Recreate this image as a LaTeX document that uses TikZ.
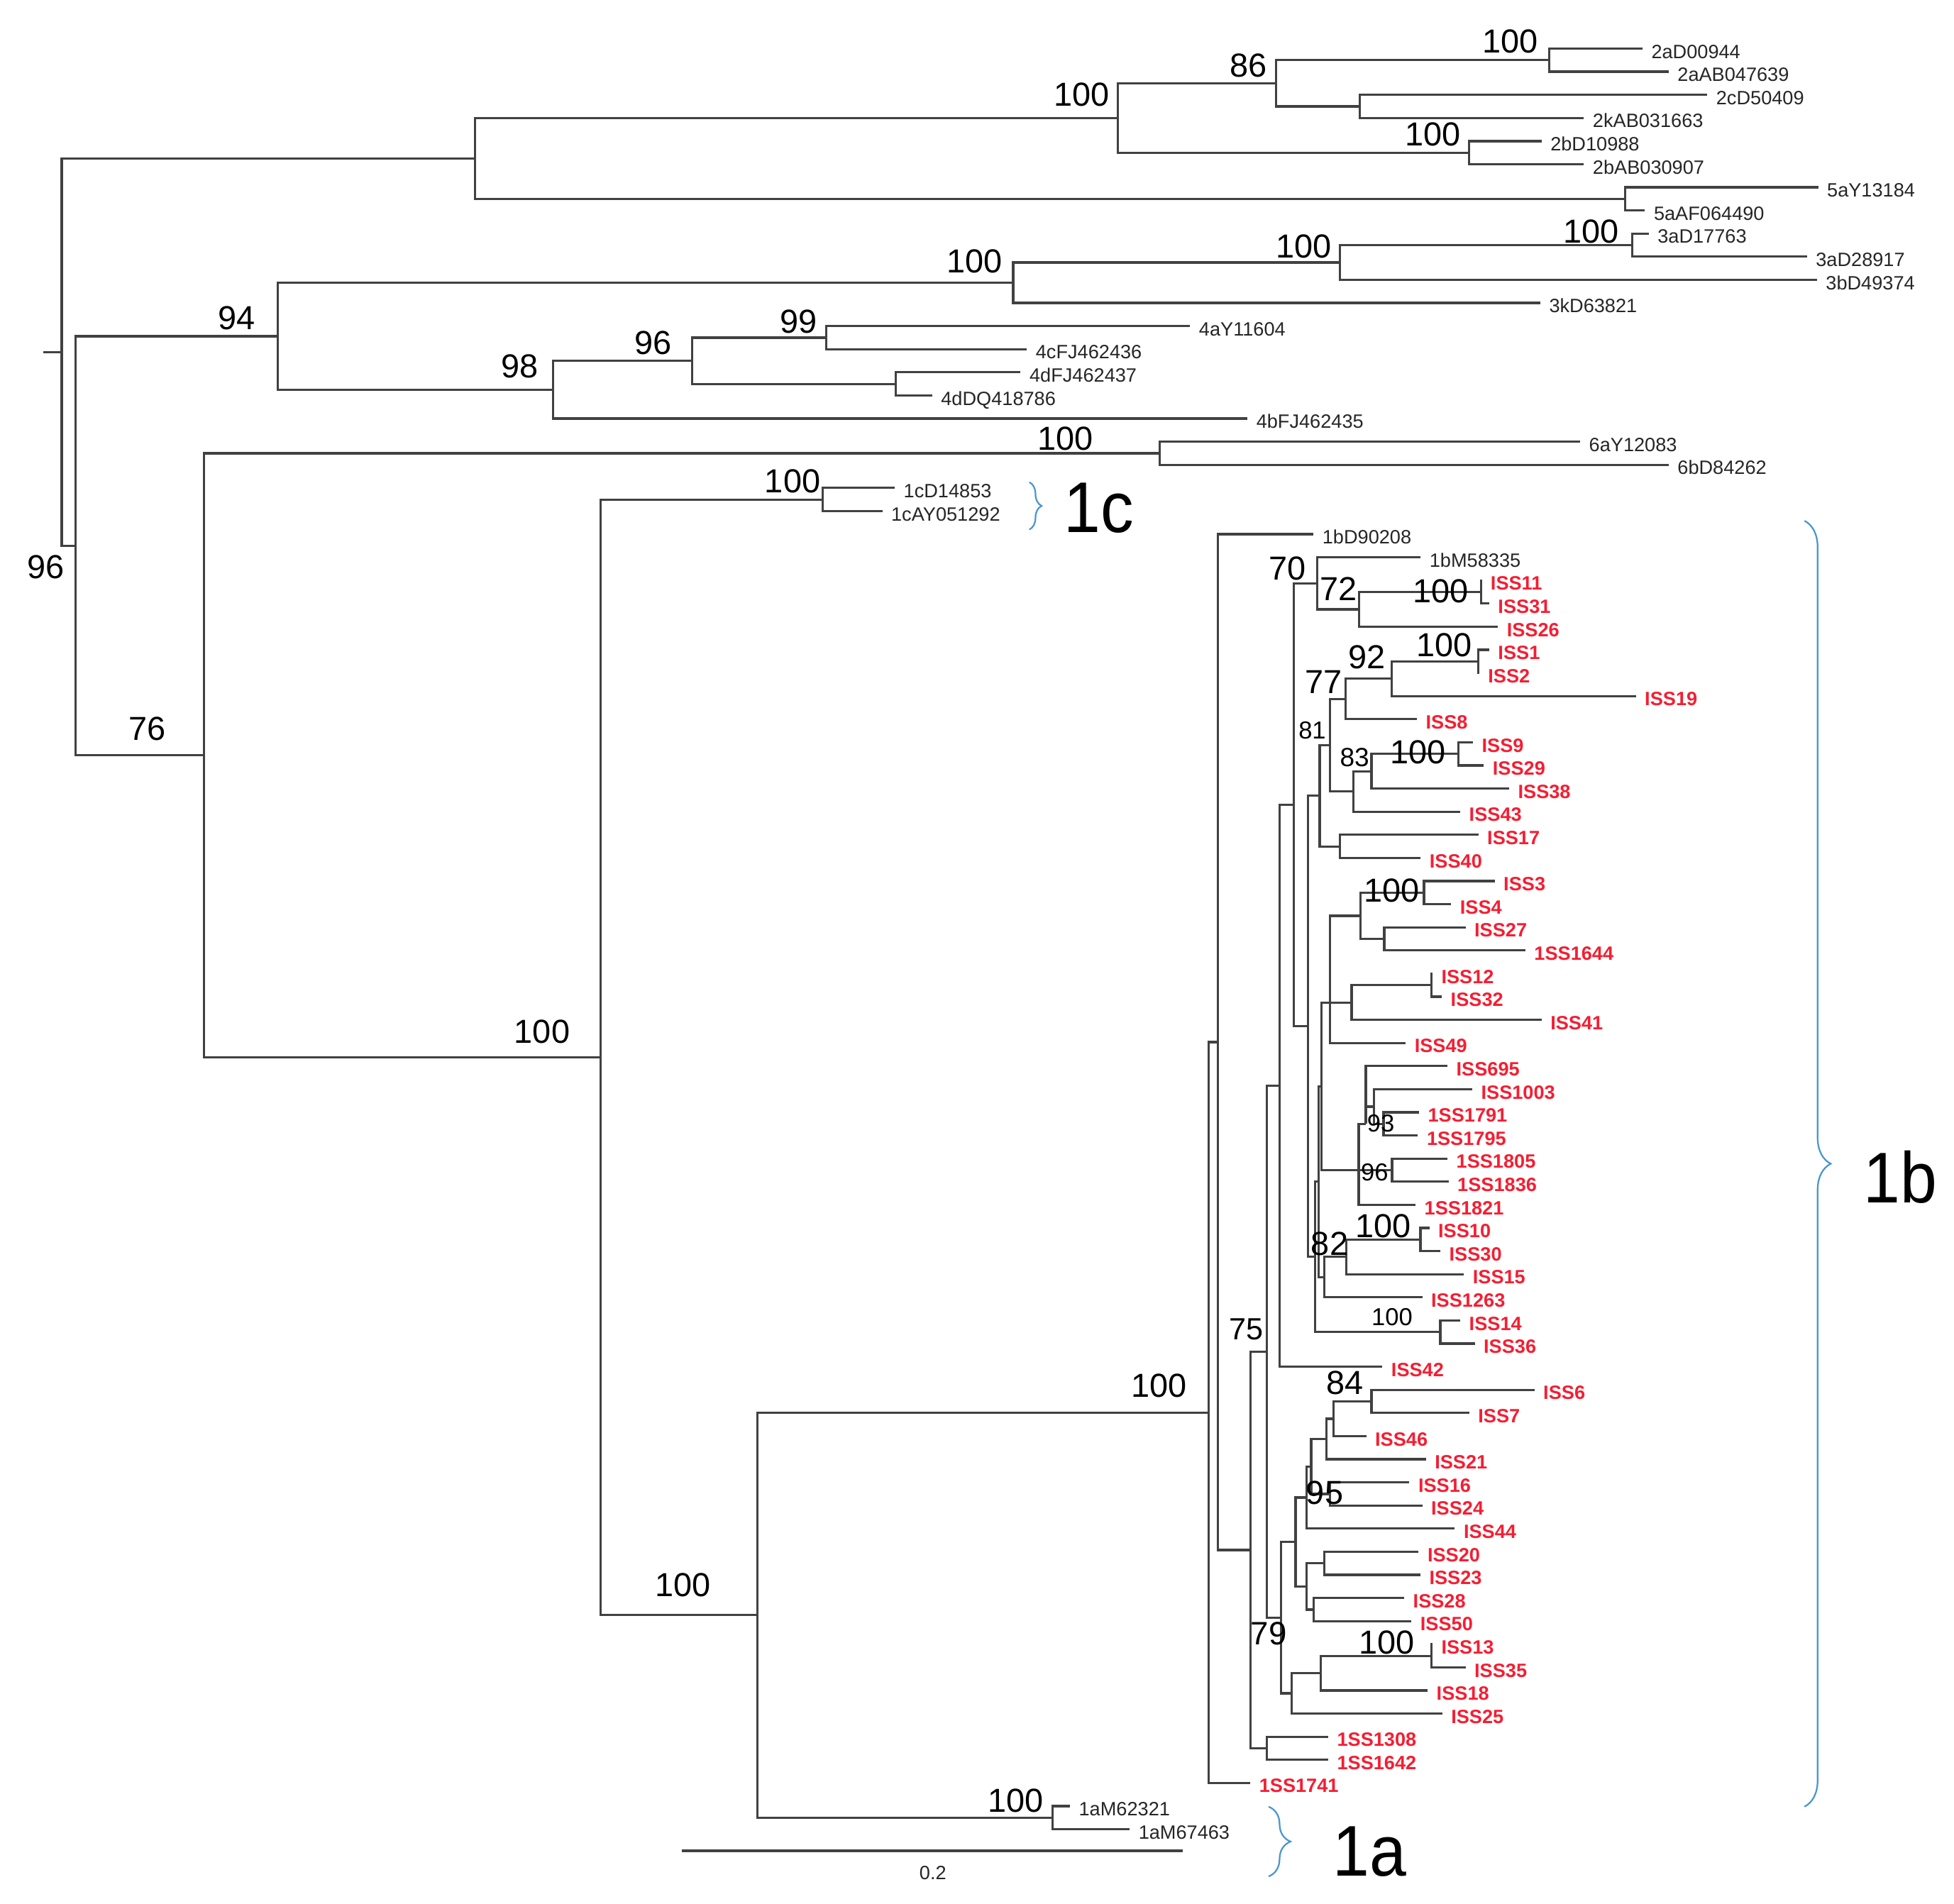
\documentclass[tikz,border=0pt]{standalone}
\usepackage{fontspec}
\usepackage{graphicx}
\setmainfont{Liberation Sans}
\usetikzlibrary{decorations.pathreplacing}
\definecolor{issred}{RGB}{245,30,50}
\definecolor{brblue}{RGB}{72,150,208}
\definecolor{brgray}{RGB}{65,65,65}
\newcommand\TLeafK[4]{\node[leafk] (#1) at (#2,{39+18.56*#3}) {#4};}
\newcommand\TLeafR[4]{\node[leafr] (#1) at (#2,{39+18.56*#3}) {#4};}
\newcommand\TNode[3]{\coordinate (#1) at (#2,{39+18.56*#3});}
\begin{document}
\begin{tikzpicture}[x=0.05cm,y=-0.05cm,
  branch/.style={draw=brgray,line width=2.6pt},
  leafk/.style={anchor=west,inner xsep=10pt,inner ysep=0pt,text height=22pt,text depth=0pt,font=\fontsize{22}{24}\selectfont,text=black!85},
  leafr/.style={leafk,font=\fontsize{22}{24}\selectfont\bfseries,text=issred},
  boot/.style={inner sep=0pt,anchor=center,font=\fontsize{38}{40}\selectfont},
  boots/.style={inner sep=0pt,anchor=center,font=\fontsize{28}{30}\selectfont},
  bracelab/.style={inner sep=0pt,anchor=center,font=\fontsize{82}{84}\selectfont},
  bracebr/.style={draw=brblue,line width=1.8pt,decorate}]
\fill[white] (0,0) rectangle (1568,1528);
\useasboundingbox (0,0) rectangle (1568,1528);
% leaves
\TLeafK{l0}{1318}{0}{2aD00944}
\TLeafK{l1}{1339}{1}{2aAB047639}
\TLeafK{l2}{1370}{2}{2cD50409}
\TLeafK{l3}{1271}{3}{2kAB031663}
\TLeafK{l4}{1237}{4}{2bD10988}
\TLeafK{l5}{1271}{5}{2bAB030907}
\TLeafK{l6}{1459}{6}{5aY13184}
\TLeafK{l7}{1320}{7}{5aAF064490}
\TLeafK{l8}{1323}{8}{3aD17763}
\TLeafK{l9}{1450}{9}{3aD28917}
\TLeafK{l10}{1458}{10}{3bD49374}
\TLeafK{l11}{1236}{11}{3kD63821}
\TLeafK{l12}{955}{12}{4aY11604}
\TLeafK{l13}{824}{13}{4cFJ462436}
\TLeafK{l14}{819}{14}{4dFJ462437}
\TLeafK{l15}{748}{15}{4dDQ418786}
\TLeafK{l16}{1001}{16}{4bFJ462435}
\TLeafK{l17}{1268}{17}{6aY12083}
\TLeafK{l18}{1339}{18}{6bD84262}
\TLeafK{l19}{718}{19}{1cD14853}
\TLeafK{l20}{708}{20}{1cAY051292}
\TLeafK{l21}{1054}{21}{1bD90208}
\TLeafK{l22}{1140}{22}{1bM58335}
\TLeafR{l23}{1189}{23}{ISS11}
\TLeafR{l24}{1195}{24}{ISS31}
\TLeafR{l25}{1202}{25}{ISS26}
\TLeafR{l26}{1195}{26}{ISS1}
\TLeafR{l27}{1187}{27}{ISS2}
\TLeafR{l28}{1312.7}{28}{ISS19}
\TLeafR{l29}{1137}{29}{ISS8}
\TLeafR{l30}{1182}{30}{ISS9}
\TLeafR{l31}{1190.7}{31}{ISS29}
\TLeafR{l32}{1211}{32}{ISS38}
\TLeafR{l33}{1171.8}{33}{ISS43}
\TLeafR{l34}{1186.3}{34}{ISS17}
\TLeafR{l35}{1140}{35}{ISS40}
\TLeafR{l36}{1199.4}{36}{ISS3}
\TLeafR{l37}{1164.5}{37}{ISS4}
\TLeafR{l38}{1176}{38}{ISS27}
\TLeafR{l39}{1224}{39}{1SS1644}
\TLeafR{l40}{1149.5}{40}{ISS12}
\TLeafR{l41}{1157}{41}{ISS32}
\TLeafR{l42}{1237}{42}{ISS41}
\TLeafR{l43}{1128}{43}{ISS49}
\TLeafR{l44}{1161.5}{44}{ISS695}
\TLeafR{l45}{1181.4}{45}{ISS1003}
\TLeafR{l46}{1138.7}{46}{1SS1791}
\TLeafR{l47}{1137.8}{47}{1SS1795}
\TLeafR{l48}{1161.5}{48}{1SS1805}
\TLeafR{l49}{1162.4}{49}{1SS1836}
\TLeafR{l50}{1135.9}{50}{1SS1821}
\TLeafR{l51}{1147}{51}{ISS10}
\TLeafR{l52}{1155.8}{52}{ISS30}
\TLeafR{l53}{1174.7}{53}{ISS15}
\TLeafR{l54}{1141.3}{54}{ISS1263}
\TLeafR{l55}{1171.8}{55}{ISS14}
\TLeafR{l56}{1183.4}{56}{ISS36}
\TLeafR{l57}{1109.3}{57}{ISS42}
\TLeafR{l58}{1231.3}{58}{ISS6}
\TLeafR{l59}{1179}{59}{ISS7}
\TLeafR{l60}{1096.3}{60}{ISS46}
\TLeafR{l61}{1144.2}{61}{ISS21}
\TLeafR{l62}{1131}{62}{ISS16}
\TLeafR{l63}{1141.3}{63}{ISS24}
\TLeafR{l64}{1167.4}{64}{ISS44}
\TLeafR{l65}{1138.4}{65}{ISS20}
\TLeafR{l66}{1139.8}{66}{ISS23}
\TLeafR{l67}{1126.8}{67}{ISS28}
\TLeafR{l68}{1132.6}{68}{ISS50}
\TLeafR{l69}{1149.5}{69}{ISS13}
\TLeafR{l70}{1176}{70}{ISS35}
\TLeafR{l71}{1145.6}{71}{ISS18}
\TLeafR{l72}{1157.3}{72}{ISS25}
\TLeafR{l73}{1065.8}{73}{1SS1308}
\TLeafR{l74}{1065.8}{74}{1SS1642}
\TLeafR{l75}{1003.3}{75}{1SS1741}
\TLeafK{l76}{858.6}{76}{1aM62321}
\TLeafK{l77}{906.5}{77}{1aM67463}
% internal nodes
\TNode{root}{49.5}{13.12442}
\TNode{nA}{381}{4.75}
\TNode{n100a}{897}{3}
\TNode{n86}{1024}{1.5}
\TNode{n2a}{1243}{0.5}
\TNode{n2ck}{1091}{2.5}
\TNode{n2b}{1179}{4.5}
\TNode{n5a}{1304}{6.5}
\TNode{n96}{60.5}{21.49884}
\TNode{n94}{223}{12.4375}
\TNode{n3}{813}{10.125}
\TNode{n3ab}{1075.4}{9.25}
\TNode{n3a}{1310}{8.5}
\TNode{n98}{444}{14.75}
\TNode{n96a}{555.6}{13.5}
\TNode{n99}{663}{12.5}
\TNode{n4d}{719}{14.5}
\TNode{n76}{163.5}{30.56018}
\TNode{n6}{930.5}{17.5}
\TNode{n1abc}{482}{43.62036}
\TNode{n1c}{660}{19.5}
\TNode{n1bla}{608}{67.74072}
\TNode{n1a}{844.7}{76.5}
\TNode{P}{969.9}{58.981445}
\TNode{B1}{977.2}{42.96289}
\TNode{R2}{1003.3}{64.92578}
\TNode{n1308}{1016.4}{73.5}
\TNode{Q}{1016.4}{56.3515625}
\TNode{N}{1026.6}{44.8515625}
\TNode{n70}{1038}{32.703125}
\TNode{nA1}{1057}{23.125}
\TNode{n72}{1090.5}{24.25}
\TNode{n100b}{1188.6}{23.5}
\TNode{M}{1049.8}{42.28125}
\TNode{K}{1059}{32.3125}
\TNode{G}{1067.2}{30.125}
\TNode{F}{1079.7}{28.125}
\TNode{D}{1116.6}{27.25}
\TNode{E}{1186.3}{26.5}
\TNode{H}{1086}{32.125}
\TNode{I}{1100.6}{31.25}
\TNode{J}{1170.3}{30.5}
\TNode{L}{1075.3}{34.5}
\TNode{Z}{1055.2}{52.25}
\TNode{n100d}{1155.8}{55.5}
\TNode{Z2}{1058}{49}
\TNode{Z3}{1060.5}{44.875}
\TNode{R}{1067.2}{41.25}
\TNode{S}{1091.9}{37.5}
\TNode{U}{1142.7}{36.5}
\TNode{V}{1110.8}{38.5}
\TNode{T}{1084.6}{41.25}
\TNode{W}{1148.5}{40.5}
\TNode{X5}{1090.3}{48.5}
\TNode{X1}{1096}{46.5}
\TNode{X2}{1102.7}{45.75}
\TNode{n93}{1110.2}{46.5}
\TNode{n96b}{1117}{48.5}
\TNode{Y1}{1062.9}{53.125}
\TNode{n82}{1080.3}{52.25}
\TNode{n100e}{1139.8}{51.5}
\TNode{n79}{1028}{67.8515625}
\TNode{G2}{1039.6}{64.578125}
\TNode{G3}{1048.3}{62.65625}
\TNode{G4}{1052.1}{61.3125}
\TNode{G5}{1064.3}{60.125}
\TNode{G6}{1070.1}{59.25}
\TNode{n84}{1100.6}{58.5}
\TNode{n95}{1067.2}{62.5}
\TNode{GW}{1048.3}{66.5}
\TNode{GV}{1062.9}{65.5}
\TNode{GU}{1054}{67.5}
\TNode{GZ}{1036.7}{71.125}
\TNode{GY}{1060}{70.25}
\TNode{n100c}{1148.5}{69.5}
\coordinate (rtick) at (35,{39+18.56*13.12442});
% branches
\draw[branch] (rtick) -- (root);
\foreach \a/\b in {root/nA,root/n96,nA/n100a,nA/n5a,n100a/n86,n100a/n2b,n86/n2a,n86/n2ck,
  n2a/l0,n2a/l1,n2ck/l2,n2ck/l3,n2b/l4,n2b/l5,n5a/l6,n5a/l7,
  n96/n94,n96/n76,n94/n3,n94/n98,n3/n3ab,n3/l11,n3ab/n3a,n3ab/l10,n3a/l8,n3a/l9,
  n98/n96a,n98/l16,n96a/n99,n96a/n4d,n99/l12,n99/l13,n4d/l14,n4d/l15,
  n76/n6,n76/n1abc,n6/l17,n6/l18,n1abc/n1c,n1abc/n1bla,n1c/l19,n1c/l20,
  n1bla/P,n1bla/n1a,n1a/l76,n1a/l77,P/B1,P/l75,B1/l21,B1/R2,R2/Q,R2/n1308,n1308/l73,n1308/l74,
  Q/N,Q/n79,N/n70,N/l57,n70/nA1,n70/M,nA1/l22,nA1/n72,n72/n100b,n72/l25,n100b/l23,n100b/l24,
  M/K,M/Z,K/G,K/L,G/F,G/H,F/D,F/l29,D/E,D/l28,E/l26,E/l27,H/I,H/l33,I/J,I/l32,J/l30,J/l31,L/l34,L/l35,
  Z/Z2,Z/n100d,n100d/l55,n100d/l56,Z2/Z3,Z2/Y1,Z3/R,Z3/X5,R/S,R/T,R/l43,S/U,S/V,U/l36,U/l37,V/l38,V/l39,
  T/W,T/l42,W/l40,W/l41,X5/X1,X5/n96b,X5/l50,X1/l44,X1/X2,X2/l45,X2/n93,n93/l46,n93/l47,n96b/l48,n96b/l49,
  Y1/n82,Y1/l54,n82/n100e,n82/l53,n100e/l51,n100e/l52,
  n79/G2,n79/GZ,G2/G3,G2/GW,G3/G4,G3/l64,G4/G5,G4/n95,G5/G6,G5/l61,G6/n84,G6/l60,n84/l58,n84/l59,
  n95/l62,n95/l63,GW/GV,GW/GU,GV/l65,GV/l66,GU/l67,GU/l68,GZ/GY,GZ/l72,GY/n100c,GY/l71,n100c/l69,n100c/l70}
  {\draw[branch] (\a) |- (\b);}
% bootstrap values
\node[boot] (b1) at (868,76) {100};
\node[boot] (b2) at (1002,52.6) {86};
\node[boot] (b3) at (1212,33) {100};
\node[boot] (b4) at (1150,108) {100};
\node[boot] (b5) at (782,210) {100};
\node[boot] (b6) at (1046,197.5) {100};
\node[boot] (b7) at (1277,186) {100};
\node[boot] (b8) at (190,255) {94};
\node[boot] (b9) at (417,294) {98};
\node[boot] (b10) at (524,275) {96};
\node[boot] (b11) at (641,258) {99};
\node[boot] (b12) at (855,352) {100};
\node[boot] (b13) at (636,386) {100};
\node[boot] (b14) at (37,455) {96};
\node[boot] (b15) at (118,585) {76};
\node[boot] (b16) at (435,828) {100};
\node[boot] (b17) at (548,1272) {100};
\node[boot] (b18) at (930,1112) {100};
\node[boot] (b19) at (815,1445) {100};
\node[boot] (b20) at (1033,456) {70};
\node[boot] (b21) at (1074,472.5) {72};
\node[boot] (b22) at (1156,474.4) {100};
\node[boot] (b23) at (1097,527.6) {92};
\node[boot] (b24) at (1159,517.5) {100};
\node[boot] (b25) at (1062,547.5) {77};
\node[boot] (b26) at (1138,603.5) {100};
\node[boot] (b27) at (1117,714.5) {100};
\node[boot] (b28) at (1067,998) {82};
\node[boot] (b29) at (1110,984) {100};
\node[boot,font=\fontsize{35}{37}\selectfont] (b30) at (1000,1067) {75};
\node[boot] (b31) at (1079,1110) {84};
\node[boot] (b32) at (1063,1198) {95};
\node[boot,font=\fontsize{37}{39}\selectfont] (b33) at (1018,1311) {79};
\node[boot] (b34) at (1113,1318) {100};
\node[boots] (b35) at (1053,586) {81};
\node[boots,font=\fontsize{30}{32}\selectfont] (b36) at (1087,608) {83};
\node[boots] (b37) at (1108,901.5) {93};
\node[boots] (b38) at (1103,941) {96};
\node[boots] (b39) at (1117,1057) {100};
% scale bar
\coordinate (sbL) at (547,1485.6);
\coordinate (sbR) at (949.3,1485.6);
\draw[branch,line width=3.2pt] (sbL) -- (sbR);
\node[inner sep=0pt,font=\fontsize{22}{24}\selectfont,text=black!85] (sblab) at (748.6,1503) {0.2};
% brackets
\coordinate (c1t) at (826,387);
\coordinate (c1b) at (826,425);
\draw[bracebr,decoration={brace,amplitude=14pt}] (c1t) -- (c1b);
\coordinate (b1t) at (1448,418);
\coordinate (b1b) at (1448,1450);
\draw[bracebr,decoration={brace,amplitude=30pt}] (b1t) -- (b1b);
\coordinate (a1t) at (1018,1450);
\coordinate (a1b) at (1018,1506);
\draw[bracebr,decoration={brace,amplitude=25pt}] (a1t) -- (a1b);
\node[bracelab] (g1c) at (882,408) {\scalebox{0.92}[1]{1c}};
\node[bracelab] (g1b) at (1525,945) {\scalebox{0.92}[1]{1b}};
\node[bracelab] (g1a) at (1099,1486) {\scalebox{0.92}[1]{1a}};
\end{tikzpicture}
\end{document}
